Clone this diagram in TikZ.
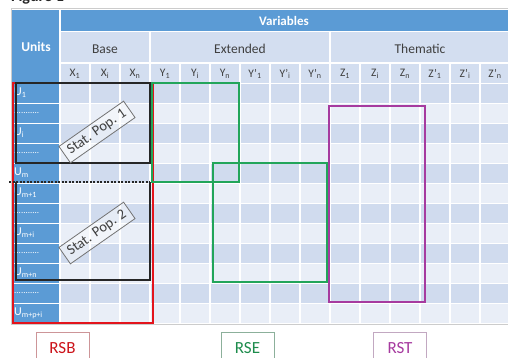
\documentclass[tikz,border=0pt]{standalone}
\usepackage{fontspec}
\setmainfont{Carlito}
\definecolor{headblue}{HTML}{5B9BD5}
\definecolor{rowdark}{HTML}{D0DBEE}
\definecolor{rowlight}{HTML}{E9EEF7}
\definecolor{subhead}{HTML}{D3DEF0}
\definecolor{labgray}{HTML}{3F3F3F}
\definecolor{rsbred}{HTML}{E3141C}
\definecolor{rsegreen}{HTML}{22A55A}
\definecolor{rstpurple}{HTML}{A63A9F}
\definecolor{popblack}{HTML}{262626}
\newcommand{\fsz}[1]{\fontsize{#1}{#1}\selectfont}
\begin{document}
\begin{tikzpicture}[x=1pt,y=-1pt,
  gridline/.style={white,line width=1.2pt},
  rowlab/.style={anchor=west,inner sep=0pt,text=white,font=\fsz{12}},
  dotlab/.style={anchor=west,inner sep=0pt,text=white,font=\fsz{9}},
  collab/.style={inner sep=0pt,text=labgray,font=\fsz{11.5}},
  grouplab/.style={inner sep=0pt,text=labgray,font=\fsz{13.5}},
  poplabel/.style={draw=black!55,line width=0.8pt,fill=white,fill opacity=0.45,
    text opacity=1,text=labgray,rotate=35,font=\fsz{14.5},inner xsep=5pt,
    minimum height=20pt},
  setframe/.style={line width=1.8pt},
  tagbox/.style={draw,line width=1pt,minimum width=53pt,minimum height=32pt,
    anchor=north,font=\fsz{17}},
]
\useasboundingbox (0,0) rectangle (508,358);
\fill[white] (0,0) rectangle (508,358);

% title, cut by the page edge
\node[anchor=base west,inner sep=0pt,font=\bfseries\fsz{16},text=black!85] (title) at (11,2) {Figure 1};

% table outline
\draw[black!20,line width=1pt] (11,9) rectangle (512,324);

% header bands
\fill[headblue] (12,10) rectangle (510,31);
\fill[subhead] (60,31) rectangle (510,63);
\fill[subhead] (60,63) rectangle (510,83);
\fill[headblue] (12,10) rectangle (60,323);

% data rows, alternating shades
\foreach \k in {0,2,...,10}
  \fill[rowdark] (60,{83+20*\k}) rectangle (510,{103+20*\k});
\foreach \k in {1,3,...,11}
  \fill[rowlight] (60,{83+20*\k}) rectangle (510,{103+20*\k});

% white grid lines
\draw[gridline] (60,10) -- (60,323);
\draw[gridline] (60,31.5) -- (510,31.5);
\draw[gridline] (60,63) -- (510,63);
\draw[gridline] (150,31) -- (150,63);
\draw[gridline] (330,31) -- (330,63);
\foreach \c in {1,...,14}
  \draw[gridline] ({60+30*\c},63) -- ({60+30*\c},323);
\foreach \k in {0,...,11}
  \draw[white,line width=0.8pt] (12,{83+20*\k}) -- (510,{83+20*\k});

% header texts
\node[inner sep=0pt,text=white,font=\bfseries\fsz{13.5}] (units) at (36,47) {Units};
\node[inner sep=0pt,text=white,font=\bfseries\fsz{13}] (vars) at (284,20.5) {Variables};
\node[grouplab] (base) at (105,49) {Base};
\node[grouplab] (ext) at (240,49) {Extended};
\node[grouplab] (them) at (420,49) {Thematic};

% variable column labels
\foreach \lab [count=\c from 0] in {X\textsubscript{1},X\textsubscript{i},X\textsubscript{n},
    Y\textsubscript{1},Y\textsubscript{i},Y\textsubscript{n},
    Y’\textsubscript{1},Y’\textsubscript{i},Y’\textsubscript{n},
    Z\textsubscript{1},Z\textsubscript{i},Z\textsubscript{n},
    Z’\textsubscript{1},Z’\textsubscript{i},Z’\textsubscript{n}}
  \node[collab] (col\c) at ({75+30*\c},74) {\lab};

% unit row labels
\node[rowlab] (u0) at (14,93) {U\textsubscript{1}};
\node[dotlab] (u1) at (14,113) {...........};
\node[rowlab] (u2) at (14,133) {U\textsubscript{i}};
\node[dotlab] (u3) at (14,153) {...........};
\node[rowlab] (u4) at (14,173) {U\textsubscript{m}};
\node[rowlab] (u5) at (14,193) {U\textsubscript{m+1}};
\node[dotlab] (u6) at (14,213) {...........};
\node[rowlab] (u7) at (14,233) {U\textsubscript{m+i}};
\node[dotlab] (u8) at (14,253) {...........};
\node[rowlab] (u9) at (14,273) {U\textsubscript{m+n}};
\node[dotlab] (u10) at (14,293) {...........};
\node[rowlab] (u11) at (14,313) {U\textsubscript{m+p+i}};

% RSB frame
\draw[rsbred,line width=1.5pt] (13,83) rectangle (153,323);
% statistical populations
\draw[popblack,setframe] (16,83) rectangle (150,163);
\draw[popblack,setframe] (16,182) -- (16,280) -- (150,280) -- (150,182);
\draw[popblack,line width=1.2pt,dash pattern=on 2pt off 1.5pt] (9,182) -- (150,182);
\node[poplabel] (pop1) at (97,132) {Stat. Pop. 1};
\node[poplabel] (pop2) at (97,233) {Stat. Pop. 2};
% RSE frames
\draw[rsegreen,setframe] (152,83) rectangle (239,182);
\draw[rsegreen,setframe] (213,163) rectangle (327,282);
% RST frame
\draw[rstpurple,setframe] (329,106) rectangle (425,302);

% legend tags
\node[tagbox,draw=rsbred!45!gray!60,text=rsbred!90!black] (rsb) at (62.5,332) {RSB};
\node[tagbox,draw=rsegreen!40!gray!70,text=rsegreen!85!black] (rse) at (247.5,332) {RSE};
\node[tagbox,draw=rstpurple!45!gray!55,text=rstpurple] (rst) at (400,332) {RST};
\end{tikzpicture}
\end{document}
